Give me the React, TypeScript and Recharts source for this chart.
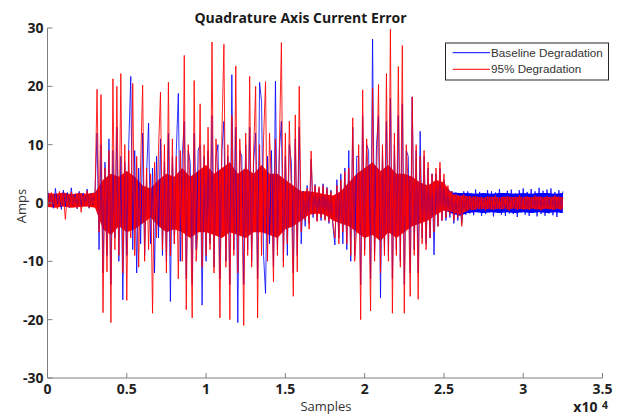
import React from "react";
import { ComposedChart, Line, Area, XAxis, YAxis } from "recharts";

// Sample spacing between the read-off points (samples)
const SAMPLE_STEP = 125;
// Sample spacing of the read-off dense-core envelope
const BODY_STEP = 500;

// ---- 95% Degradation (red) ----
const redQuietStart = [
  1.5, -0.6, 1.8, -0.2, 1.2, -1.0, 2.0, -0.4, 1.6, -2.8,
  1.4, -0.7, 1.9, -0.3, 1.1, -0.9, 1.7, -1.6, 1.3, -0.5,
  2.1, -0.8, 1.5, -0.2, 1.8,
];
const redBurst1 = [
  19.5, -5, 18.6, -18.8, 6, -11.8, 9, -20.5, 21.3, -8,
  20, -9, 22.2, -12, 10, -16.7, 9, -6, 20.5, -9,
  8, -11, 7, 20.2, -10, 6, -8, 5, -18.9, 7,
  -6, 9, 19, -8, 10, -12, 20.7, -9, 11, -7,
  8, -13, 9, -10, 25.3, -18.3, 10, 3, -19.7, 21,
  -10, -4, 17, -11, 10, -9, 13, -8, 27.6, -12,
  11, 4, -19.7, 12, 27.2, -11, 10, -20, 15, -9,
  23.5, -12, 11, 3, -21, 12, -9, 21.7, -11, 9,
  20, -19.7, 10, -9, 11, 20.8, -10, 12, 3, -13.5,
  11, -9, 10, 27.5, -11, 12, -7, 14, 2, -16,
  15.1, -11.8, 20,
];
const redTransition = [
  -4.9, 1.9, -3, 2.5, -4.5, 8.9, -2, 3, -3.2, 2.8,
  -2.5, 3, -3, 2.5, -3.2, 2, -3.5,
];
const redBurst2 = [
  -6, 3, -7, 4, -5, 5.4, -7, 6, -9, 14.6,
  -10, -4, 10, -20, 19.4, -9, 11, 3, -18.5, 19.7,
  -10, 4, 20.3, -12, 10, -9, 22.2, -10, 29.8, -18.9,
  12, -9, 23.4, -11, 27, -18.9, 10, 3, -16, 18.2,
  -9, 10, -16.5, 8, -7, 9, -8, 7, -6, 5,
  -5, 6, -4, 7, -3,
];
const redTaper = [5, -2.5, 3, -2, 2, -3, 1.5, -2.5, 1.2, -4, 1.5, -1.5];
const redQuietEnd = [
  1.1, -1.0, 0.9, -1.2, 1.2, -0.8, 1.0, -1.1, 0.8, -1.3,
  1.2, -0.9, 1.0, -1.2, 1.3, -1.0, 0.9, -1.1, 1.1, -0.8,
  1.2, -1.3, 1.0, -0.9, 1.1, -1.2, 1.3, -1.0, 0.8, -1.1,
  1.2, -1.2, 1.0, -0.9, 1.3, -1.1, 1.1, -1.3, 0.9, -1.0,
  1.2, -1.1, 1.0, -1.2, 1.3, -0.9, 1.1, -1.2, 1.0,
];
// dense core of the red trace, every BODY_STEP samples
const redBodyHigh = [
  1.7, 1.6, 1.8, 1.5, 1.7, 1.6, 1.8,
  4, 5, 4.5, 5.5, 4.5, 3, 2.5, 4, 5, 4.5,
  6, 4.5, 5.5, 6.5, 5, 6, 7, 5, 6, 5,
  6.5, 5, 5, 4, 3, 2, 2, 1.8, 1.5, 1.3,
  2, 3.5, 5, 6, 7, 5.5, 6.5, 5, 5, 4.5,
  3.5, 3, 4, 3.5, 1.5, 1.3, 1.2, 1.1, 1.0, 1.1,
  1.0, 1.1, 1.0, 1.1, 1.0, 1.1, 1.0, 1.1, 1.0,
];
const redBodyLow = [
  -0.7, -0.8, -0.6, -0.8, -0.7, -0.6, -0.8,
  -4.5, -5.5, -4, -5, -4.5, -3.5, -2.5, -4, -5, -4.5,
  -5, -6, -5, -5, -5.5, -6, -5, -5.5, -6, -5,
  -5, -5.5, -6, -4.5, -4, -3, -2, -1.8, -2, -3,
  -3.5, -4, -5, -6, -5.5, -6.5, -5, -6, -5, -4,
  -3.5, -3, -2, -1.3, -1.5, -2, -1.3, -1.1, -1.0, -1.1,
  -1.0, -1.1, -1.0, -1.1, -1.0, -1.1, -1.0, -1.1, -1.0,
];

// ---- Baseline Degradation (blue) ----
const blueQuietStart = [
  2.3, -0.5, 1.6, -0.9, 2.5, -0.3, 1.4, -1.1, 2.2, -0.6,
  1.8, -0.8, 2.6, -0.4, 1.5, -1.0, 2.0, -0.7, 1.7, -0.5,
  2.4, -0.9, 1.6, -0.3, 2.0,
];
const blueBurst1 = [
  12, -8, 10, -12, 7, -9, 11, -14, 9, -6,
  13, -10, 8, -16.6, 7, -9, 10, 21.7, -8, 9,
  -12, 6, -7, 12, -9, 5, 13.7, -7, 6, -12,
  8, -6, 11, -9, 7, -10, 12, -16.9, 8, -7,
  9, 18.8, -10, 8, 14, -13, 9, 7, -14, 12,
  -8, 9, 10, -17.5, 8, -10, 9, -7, 15, -11,
  8, 10, -13, 9, 14, -10, 8, -14, 22, -8,
  13, -20.5, 9, 8, -14, 10, -8, 13, -10, 7,
  12, -13, 20.7, 17.3, -9, -15.5, 8, -7, 9, -11,
  20.9, -8, 9, 14, -10, 8, -9, 10, 7, -12,
  11, -9, 13,
];
const blueTransition = [
  -7, 2, -4, 3, -3.5, 7.5, -2.5, 3.2, -3, 2.5,
  -3, 3.3, -2.8, 2.7, -3.5, 2.2, -4,
];
const blueBurst2 = [
  -7.2, 4, -6, 5, -7, 6, -8, 9, -10, 13,
  -9, 8, 8, -14, 15, -8, 10, 9, -13, 28.1,
  -9, 10, 15, -16.3, 9, -8, 14, -9, 18, -13,
  10, -8, 15, -10, 17, -14, 9, 8, -12, 18.2,
  -8, 9, -12, 12.3, -6, 8, -7, 6, -6, 5,
  -8.9, 5, -4, 6, -3,
];
const blueTaper = [4, -3, 2.5, -2.5, 2, -3.5, 1.8, -3, 1.5, -3.5, 2, -2];
const blueQuietEnd = [
  2.0, -1.8, 1.6, -2.1, 2.3, -1.5, 1.9, -2.2, 1.7, -1.9,
  2.2, -1.6, 2.0, -2.3, 1.8, -1.7, 2.4, -2.0, 1.6, -2.2,
  2.1, -1.8, 2.3, -1.9, 1.7, -2.4, 2.2, -1.6, 2.5, -2.0,
  1.9, -2.2, 2.4, -1.7, 2.0, -2.3, 2.6, -1.9, 2.1, -2.2,
  2.3, -1.8, 2.5, -2.1, 1.9, -2.4, 2.2, -1.7, 2.0,
];
const blueBodyHigh = [
  1.5, 1.4, 1.6, 1.4, 1.5, 1.4, 1.6,
  3, 4, 3.5, 4.5, 3.5, 2.5, 2, 3, 4, 3.5,
  5, 3.5, 4.5, 5.5, 4, 5, 6, 4, 5, 4,
  5.5, 4, 4, 3, 2.5, 1.5, 1.5, 1.5, 1.2, 1.0,
  1.5, 2.5, 4, 5, 6, 4.5, 5.5, 4, 4, 3.5,
  3, 2.5, 3, 3, 1.8, 1.7, 1.7, 1.6, 1.7, 1.6,
  1.7, 1.7, 1.6, 1.7, 1.6, 1.7, 1.7, 1.6, 1.7,
];
const blueBodyLow = [
  -0.5, -0.6, -0.5, -0.6, -0.5, -0.5, -0.6,
  -3.5, -4.5, -3, -4, -3.5, -2.5, -2, -3, -4, -3.5,
  -4, -5, -4, -4, -4.5, -5, -4, -4.5, -5, -4,
  -4, -4.5, -5, -3.5, -3, -2.5, -1.5, -1.2, -1.5, -2.5,
  -3, -3.5, -4, -5, -4.5, -5.5, -4, -5, -4, -3.5,
  -3, -2.5, -1.8, -1.2, -1.8, -2.2, -1.7, -1.6, -1.7, -1.6,
  -1.7, -1.6, -1.7, -1.6, -1.7, -1.6, -1.7, -1.6, -1.7,
];

const xTicks = [0, 5000, 10000, 15000, 20000, 25000, 30000, 35000];
const yTicks = [-30, -20, -10, 0, 10, 20, 30];

const redValues = [
  ...redQuietStart, ...redBurst1, ...redTransition,
  ...redBurst2, ...redTaper, ...redQuietEnd,
];
const blueValues = [
  ...blueQuietStart, ...blueBurst1, ...blueTransition,
  ...blueBurst2, ...blueTaper, ...blueQuietEnd,
];

const bodyEvery = BODY_STEP / SAMPLE_STEP;
const data = redValues.map((v, i) => {
  const k = i / bodyEvery;
  const onBody = i % bodyEvery === 0 && k < redBodyHigh.length;
  return {
    sample: i * SAMPLE_STEP,
    red: v,
    blue: blueValues[i],
    redBody: onBody ? [redBodyLow[k], redBodyHigh[k]] : [null, null],
    blueBody: onBody ? [blueBodyLow[k], blueBodyHigh[k]] : [null, null],
  };
});

const tickStyle = {
  fontFamily: "'Open Sans', sans-serif",
  fontWeight: 700,
  fontSize: 14,
  fill: "#1e1e1e",
};

export default function App() {
  return (
    <div
      style={{
        position: "absolute",
        left: 0,
        top: 0,
        width: 618,
        height: 417,
        background: "#ffffff",
      }}
    >
      <ComposedChart
        width={618}
        height={417}
        data={data}
        margin={{ top: 28, right: 15.5, bottom: 9, left: 0 }}
      >
        <XAxis
          dataKey="sample"
          type="number"
          domain={[0, 35000]}
          ticks={xTicks}
          tickFormatter={(v: number) => String(v / 10000)}
          height={30}
          tickSize={-5}
          tickMargin={11}
          stroke="#7f7f7f"
          tick={tickStyle}
          interval={0}
        />
        <YAxis
          type="number"
          domain={[-30, 30]}
          ticks={yTicks}
          width={47.5}
          tickSize={-5}
          tickMargin={9}
          stroke="#7f7f7f"
          tick={tickStyle}
          interval={0}
        />
        <Area
          type="linear"
          dataKey="blueBody"
          stroke="none"
          fill="#0000ff"
          fillOpacity={1}
          connectNulls
          dot={false}
          activeDot={false}
          isAnimationActive={false}
        />
        <Line
          type="linear"
          dataKey="blue"
          stroke="#0000ff"
          strokeWidth={1}
          strokeOpacity={0.8}
          dot={false}
          isAnimationActive={false}
        />
        <Area
          type="linear"
          dataKey="redBody"
          stroke="none"
          fill="#ff0000"
          fillOpacity={1}
          connectNulls
          dot={false}
          activeDot={false}
          isAnimationActive={false}
        />
        <Line
          type="linear"
          dataKey="red"
          stroke="#ff0000"
          strokeWidth={1}
          strokeOpacity={0.85}
          dot={false}
          isAnimationActive={false}
        />
      </ComposedChart>
      <svg
        width={618}
        height={417}
        style={{ position: "absolute", left: 0, top: 0, pointerEvents: "none" }}
      >
        <text
          x={300.5}
          y={22.7}
          textAnchor="middle"
          fontFamily="'Open Sans', sans-serif"
          fontWeight={700}
          fontSize={14}
          fill="#1a1a1a"
        >
          Quadrature Axis Current Error
        </text>
        <text
          x={326}
          y={410.7}
          textAnchor="middle"
          fontFamily="'Open Sans', sans-serif"
          fontSize={13}
          fill="#333333"
        >
          Samples
        </text>
        <text
          x={26}
          y={206}
          textAnchor="middle"
          transform="rotate(-90 26 206)"
          fontFamily="'Open Sans', sans-serif"
          fontSize={13}
          fill="#333333"
        >
          Amps
        </text>
        <text
          x={573.3}
          y={411.5}
          fontFamily="'Open Sans', sans-serif"
          fontWeight={700}
          fontSize={14}
          fill="#1e1e1e"
        >
          x10
        </text>
        <text
          x={602}
          y={408.5}
          fontFamily="'Open Sans', sans-serif"
          fontWeight={700}
          fontSize={10.5}
          fill="#1e1e1e"
        >
          4
        </text>
        <rect
          x={445.5}
          y={43}
          width={163}
          height={37}
          fill="#ffffff"
          stroke="#262626"
          strokeWidth={1}
        />
        <line x1={452.7} y1={52.7} x2={490} y2={52.7} stroke="#0000ff" strokeWidth={1} />
        <line x1={452.7} y1={69.3} x2={490} y2={69.3} stroke="#ff0000" strokeWidth={1} />
        <text
          x={491}
          y={56.8}
          fontFamily="'Liberation Sans', Arial, sans-serif"
          fontSize={11.7}
          fill="#333333"
        >
          Baseline Degradation
        </text>
        <text
          x={491}
          y={73.4}
          fontFamily="'Liberation Sans', Arial, sans-serif"
          fontSize={11.7}
          fill="#333333"
        >
          95% Degradation
        </text>
      </svg>
    </div>
  );
}
